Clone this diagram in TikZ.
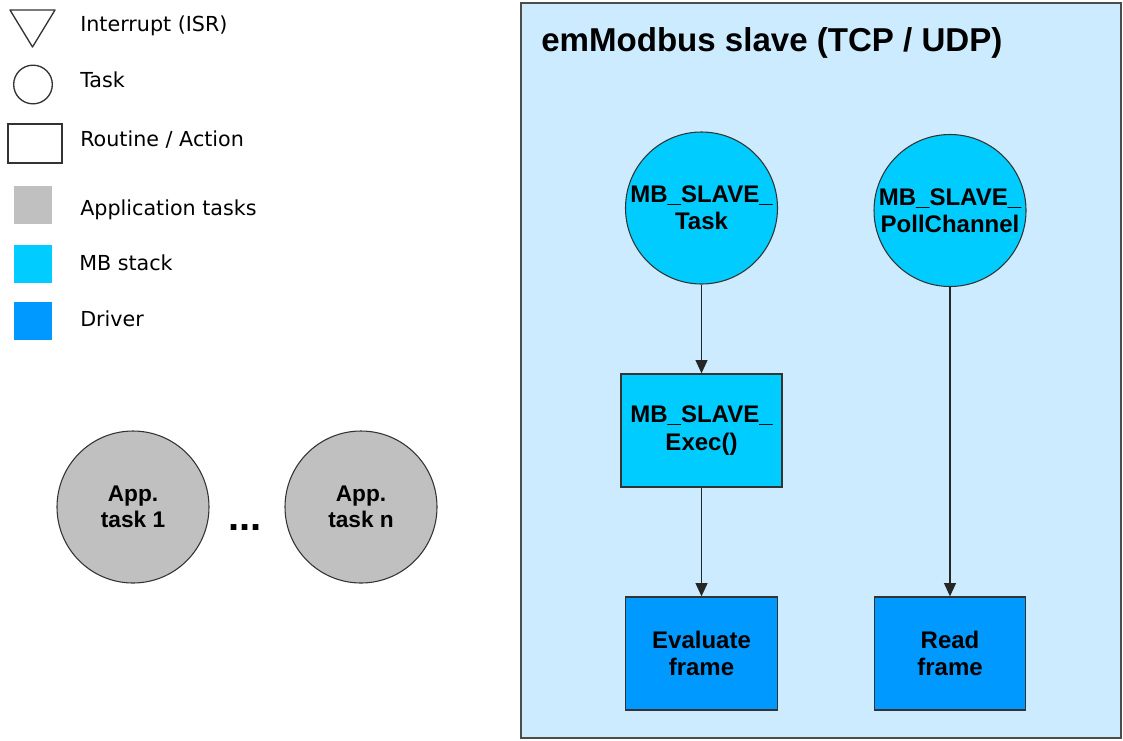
\documentclass[tikz,border=0pt]{standalone}
\usepackage{fontspec}
\setmainfont{Liberation Sans}
\newfontfamily\legendfont{DejaVu Sans}
\usetikzlibrary{arrows.meta}
\definecolor{mbcyan}{HTML}{00CCFF}
\definecolor{drvblue}{HTML}{0099FF}
\definecolor{appgrey}{HTML}{C0C0C0}
\definecolor{slavebg}{HTML}{CCEBFF}
\definecolor{edgegrey}{HTML}{333333}

\begin{document}
\begin{tikzpicture}[x=0.75pt,y=-0.75pt,
    tasknode/.style={circle,draw=edgegrey,line width=0.8pt,minimum size=114pt,inner sep=0pt,align=center,
        font=\fontsize{18}{20.5}\selectfont\bfseries},
    routinebox/.style={rectangle,draw=edgegrey,line width=1pt,minimum height=84.75pt,inner sep=0pt,align=center,
        font=\fontsize{18}{20.5}\selectfont\bfseries},
    legtext/.style={anchor=base west,inner sep=0pt,font=\legendfont\fontsize{15.5}{18}\selectfont},
    legbox/.style={minimum size=28pt,inner sep=0pt},
    flow/.style={-{Triangle[length=10pt,width=9pt]},line width=1pt,draw=black!85}]
    \useasboundingbox (0,0) rectangle (1123,740);

    % legend
    \draw[edgegrey,line width=1pt,line join=round] (10,10)--(55,10)--(32.5,47)--cycle;
    \node[circle,draw=edgegrey,line width=1pt,minimum size=29pt,inner sep=0pt] (tasksym) at (33,84.5) {};
    \node[rectangle,draw=edgegrey,line width=1.3pt,minimum width=40.5pt,minimum height=29pt,inner sep=0pt] (routinesym) at (35,143.5) {};
    \node[legbox,fill=appgrey] (appsym) at (33,205) {};
    \node[legbox,fill=mbcyan] (mbsym) at (33,264) {};
    \node[legbox,fill=drvblue] (drvsym) at (33,321) {};
    \node[legtext] (isrlbl) at (80,31.5) {Interrupt (ISR)};
    \node[legtext] (tasklbl) at (80,87.3) {Task};
    \node[legtext] (routinelbl) at (80,146.7) {Routine / Action};
    \node[legtext] (applbl) at (80,215) {Application tasks};
    \node[legtext] (mblbl) at (79,270) {MB stack};
    \node[legtext] (drvlbl) at (80,326.7) {Driver};

    % application tasks
    \node[tasknode,fill=appgrey,font=\fontsize{17}{19.5}\selectfont\bfseries] (app1) at (133,507) {App.\\task 1};
    \node[tasknode,fill=appgrey,font=\fontsize{17}{19.5}\selectfont\bfseries] (appn) at (361,507) {App.\\task n};
    \node[anchor=base,inner sep=0pt,font=\fontsize{30}{32}\selectfont\bfseries] (dots) at (245,530) {...};

    % emModbus slave
    \draw[draw=gray!60!black,line width=1.4pt,fill=slavebg] (521,3) rectangle (1121,738);
    \node[anchor=base west,inner sep=0pt,font=\fontsize{24.8}{28}\selectfont\bfseries] (title) at (541,51.7) {emModbus slave (TCP / UDP)};

    \node[tasknode,fill=mbcyan] (slavetask) at (701.5,208) {MB\_SLAVE\_\\Task};
    \node[tasknode,fill=mbcyan] (pollch) at (950,210.5) {MB\_SLAVE\_\\PollChannel};
    \node[routinebox,fill=mbcyan,minimum width=120.75pt] (exec) at (701.5,430.5) {MB\_SLAVE\_\\Exec()};
    \node[routinebox,fill=drvblue,minimum width=114pt] (evalfr) at (701.5,653.5) {Evaluate\\frame};
    \node[routinebox,fill=drvblue,minimum width=113.25pt] (readfr) at (950,653.5) {Read\\frame};

    \draw[flow] (slavetask) -- (exec);
    \draw[flow] (exec) -- (evalfr);
    \draw[flow] (pollch) -- (readfr);
\end{tikzpicture}
\end{document}
